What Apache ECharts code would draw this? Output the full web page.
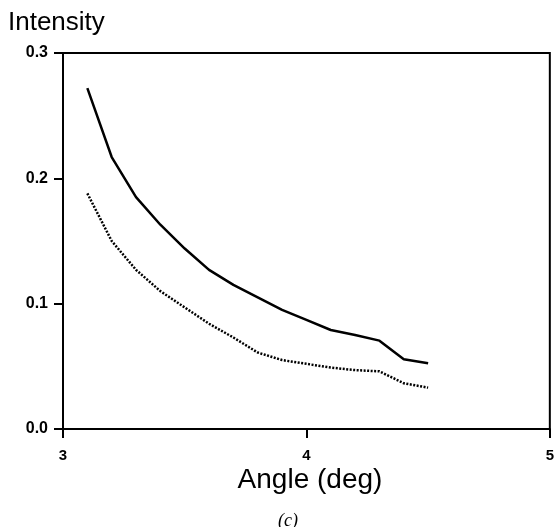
<!DOCTYPE html>
<html>
<head>
<meta charset="utf-8">
<script src="https://cdn.jsdelivr.net/npm/echarts@6/dist/echarts.min.js"></script>
<style>
html,body{margin:0;padding:0;background:#fff;}
#chart{width:557px;height:527px;}
</style>
</head>
<body>
<div id="chart"></div>
<script>
// Data
const angles = [3.1, 3.2, 3.3, 3.4, 3.5, 3.6, 3.7, 3.8, 3.9, 4.0, 4.1, 4.2, 4.3, 4.4, 4.5];
const solidIntensity = [0.272, 0.217, 0.185, 0.163, 0.144, 0.127, 0.115, 0.105, 0.095, 0.087, 0.079, 0.075, 0.0705, 0.0556, 0.0524];
const dottedIntensity = [0.188, 0.150, 0.127, 0.110, 0.097, 0.084, 0.073, 0.061, 0.055, 0.052, 0.049, 0.047, 0.046, 0.0365, 0.033];
const xTicks = [3, 4, 5];
const yTicks = [0.0, 0.1, 0.2, 0.3];
const yTitle = 'Intensity';
const xTitle = 'Angle (deg)';
const panelLabel = '(c)';

const chart = echarts.init(document.getElementById('chart'), null, {renderer: 'canvas'});
const pair = (xs, ys) => xs.map((x, i) => [x, ys[i]]);
const labelFont = {color: '#000', fontFamily: 'Liberation Sans, Arial, sans-serif', fontWeight: 'bold'};

chart.setOption({
  animation: false,
  backgroundColor: '#fff',
  grid: {left: 63, right: 4, top: 53, bottom: 98, show: true, borderColor: '#000', borderWidth: 2, containLabel: false},
  xAxis: {
    type: 'value', min: xTicks[0], max: xTicks[xTicks.length - 1], interval: 1,
    axisLine: {show: true, lineStyle: {color: '#000', width: 2}},
    axisTick: {show: true, length: 9, lineStyle: {color: '#000', width: 2}},
    axisLabel: Object.assign({margin: 19, fontSize: 15, formatter: v => String(v)}, labelFont),
    splitLine: {show: false}
  },
  yAxis: {
    type: 'value', min: yTicks[0], max: yTicks[yTicks.length - 1], interval: 0.1,
    axisLine: {show: true, lineStyle: {color: '#000', width: 2}},
    axisTick: {show: true, length: 9, lineStyle: {color: '#000', width: 2}},
    axisLabel: Object.assign({margin: 15, fontSize: 16, formatter: v => v.toFixed(1)}, labelFont),
    splitLine: {show: false}
  },
  series: [
    {type: 'line', data: pair(angles, solidIntensity), symbol: 'none', lineStyle: {color: '#000', width: 2.5}},
    {type: 'line', data: pair(angles, dottedIntensity), symbol: 'none', lineStyle: {color: '#000', width: 2.5, type: [2, 1.5]}}
  ],
  graphic: [
    {type: 'text', left: 8, top: 10, style: {text: yTitle, fill: '#000', font: '26px "Liberation Sans", Arial, sans-serif'}},
    {type: 'text', x: 310, y: 494, style: {text: xTitle, fill: '#000', font: '28px "Liberation Sans", Arial, sans-serif', textAlign: 'center', textVerticalAlign: 'bottom'}},
    {type: 'text', x: 288, y: 521, style: {text: panelLabel, fill: '#000', font: 'italic 18px "Liberation Serif", "Times New Roman", serif', textAlign: 'center', textVerticalAlign: 'middle'}}
  ]
});
</script>
</body>
</html>
